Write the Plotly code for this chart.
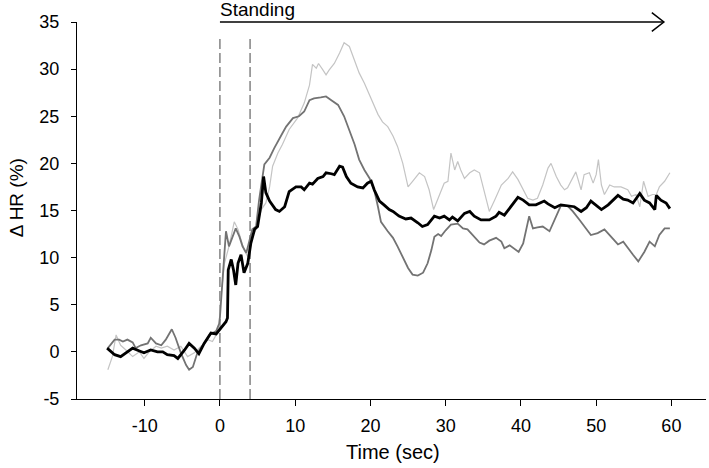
import plotly.graph_objects as go

# ---- data ----
black_t = [-15.0,-14.0,-13.2,-12.5,-11.6,-10.7,-10.1,-9.2,-8.3,-7.6,-7.0,-6.1,-5.6,-4.7,-4.1,-3.4,-2.8,-2.1,-1.2,-0.5,
           0.1,0.8,1.0,1.1,1.5,1.8,2.1,2.4,2.8,3.2,3.7,4.1,4.6,5.0,5.5,5.8,6.1,6.6,7.4,7.9,8.6,9.2,10.1,10.8,11.2,11.9,
           12.3,13.0,13.7,14.1,14.8,15.2,15.9,16.3,16.8,17.4,18.3,19.0,19.6,20.1,20.5,21.2,21.8,22.5,23.0,23.8,24.7,25.4,
           26.3,26.9,27.6,28.5,29.2,29.8,30.5,30.9,31.6,32.5,33.2,33.8,34.7,35.8,36.7,37.1,37.8,38.7,39.6,40.3,41.1,42.0,
           43.1,43.6,44.5,45.3,46.2,47.1,48.0,48.7,49.3,50.0,50.7,51.6,52.2,52.9,53.6,54.2,54.9,55.8,56.4,57.1,57.8,58.0,
           58.6,59.3,59.8]
black_v = [0.4,-0.3,-0.5,-0.1,0.4,0.1,-0.1,0.2,0.0,0.0,-0.3,-0.4,-0.7,0.2,0.9,0.4,-0.2,0.9,2.0,1.9,
           2.5,3.2,3.6,8.7,9.8,8.7,7.1,9.4,10.3,8.4,9.4,11.5,13.0,13.3,15.8,18.6,16.9,16.0,15.1,14.9,15.4,17.0,17.5,17.5,17.2,17.9,
           17.8,18.4,18.6,19.0,18.9,18.8,19.7,19.6,18.6,17.9,17.5,17.4,17.9,18.1,17.2,16.0,15.6,15.1,14.9,14.4,14.1,14.2,
           13.7,13.3,13.5,14.4,14.2,14.4,14.0,14.3,13.9,14.7,14.9,14.4,14.0,14.0,14.4,14.8,14.5,15.4,16.4,16.1,15.6,15.6,
           16.0,15.7,15.3,15.6,15.5,15.4,14.9,15.3,16.0,15.5,15.1,15.6,16.1,16.6,16.2,16.1,15.8,16.8,16.1,15.8,15.1,16.6,
           16.1,15.8,15.2]

dark_t = [-14.9,-14.0,-13.4,-12.9,-12.3,-11.6,-11.2,-10.5,-9.6,-9.2,-8.5,-7.8,-7.2,-6.4,-5.9,-5.2,-4.5,-4.1,-3.6,-3.0,
          -2.1,-1.4,-0.5,-0.1,0.0,0.8,1.2,1.7,2.1,2.6,3.0,3.5,3.9,4.3,4.8,5.2,5.9,6.6,7.2,7.9,8.3,8.8,9.7,10.5,11.2,11.9,
          12.5,13.4,14.1,14.8,15.7,16.5,17.2,17.9,18.5,19.2,19.9,20.5,21.0,21.4,22.3,23.0,23.6,24.3,25.0,25.6,26.3,27.0,
          27.6,28.1,28.5,29.0,29.4,30.0,30.7,31.6,32.3,32.9,33.6,34.5,35.1,35.8,36.7,37.4,37.8,38.5,39.7,40.3,41.1,41.6,
          42.2,42.9,43.8,44.7,45.3,46.2,46.9,47.8,48.7,49.3,50.2,51.1,52.0,52.9,53.6,54.2,54.9,55.6,56.4,57.1,57.8,58.4,
          59.1,59.8]
dark_v = [0.4,1.3,1.3,1.1,1.3,1.0,0.4,0.7,0.9,1.5,0.9,0.7,1.3,2.4,1.5,-0.1,-1.4,-1.9,-1.6,-0.1,
          0.9,1.8,2.2,3.0,3.7,12.8,11.2,12.2,13.1,12.2,11.2,10.5,11.9,13.0,13.3,16.1,19.9,20.6,21.6,22.7,23.2,23.9,24.8,25.0,25.5,26.7,
          26.9,27.0,27.1,26.7,26.2,25.0,23.6,22.0,20.4,19.3,18.4,17.2,15.4,13.8,12.8,12.1,11.2,10.1,8.9,8.2,8.1,8.4,
          9.4,10.8,12.2,12.5,12.3,12.9,13.5,13.6,13.1,13.0,12.4,11.6,11.4,11.8,12.1,11.7,11.0,11.3,10.6,11.5,14.4,13.1,
          13.2,13.3,12.8,14.4,15.5,15.5,14.9,14.0,13.1,12.4,12.6,13.0,12.2,11.4,11.7,11.0,10.3,9.6,10.6,11.7,11.2,12.4,
          13.1,13.1]

light_t = [-14.9,-14.3,-13.8,-13.2,-12.5,-11.6,-10.7,-10.1,-9.4,-8.5,-7.8,-7.0,-6.1,-5.2,-4.3,-3.4,-2.5,-1.6,-1.0,-0.5,
           -0.1,0.0,0.6,1.2,1.9,2.4,2.8,3.2,3.7,4.1,4.8,5.5,6.1,6.6,7.0,7.7,8.3,9.2,10.3,11.2,11.9,12.3,12.8,13.1,13.7,
           14.1,14.5,15.2,15.9,16.5,17.2,17.9,18.5,19.2,20.1,21.0,21.6,22.3,23.0,23.6,24.3,25.0,25.6,26.5,27.2,27.8,28.4,
           29.0,29.8,30.3,30.7,31.2,31.6,32.0,32.5,33.2,33.8,34.5,35.1,35.8,36.5,37.4,38.3,38.9,39.6,40.3,40.9,41.6,42.2,
           42.9,43.6,44.0,44.7,45.3,45.8,46.2,46.9,47.3,48.0,48.4,49.1,49.6,50.0,50.3,50.7,51.1,51.8,52.4,53.3,54.2,54.7,
           55.3,55.8,56.3,56.9,57.5,58.0,58.4,59.1,59.8]
light_v = [-1.9,-0.5,1.8,0.7,0.2,-0.5,0.0,-0.7,0.0,0.6,0.4,0.6,0.2,0.6,-0.5,-0.1,0.6,1.3,1.1,1.8,
           2.7,4.8,9.4,11.2,13.8,13.0,11.9,10.8,10.1,12.1,13.0,15.1,15.8,17.5,19.7,21.1,22.0,23.6,24.8,26.4,28.3,30.5,30.1,30.6,29.9,
           29.4,29.9,30.6,31.7,32.8,32.4,31.0,29.6,28.5,26.8,25.2,24.4,23.9,22.9,21.8,20.0,17.5,18.1,19.0,18.6,17.2,15.1,
           16.3,17.9,18.1,21.1,19.3,20.2,19.3,18.4,19.0,19.3,19.0,17.0,14.9,16.1,17.7,18.4,19.1,18.3,17.2,16.3,16.1,16.3,
           17.7,19.5,20.0,18.6,17.7,17.2,17.4,18.6,19.1,17.2,18.8,19.0,17.9,18.8,20.4,17.7,16.7,17.7,17.5,17.5,17.2,16.5,
           16.7,15.4,18.1,16.5,16.7,16.7,17.5,18.1,19.0]

x_ticks = [-10, 0, 10, 20, 30, 40, 50, 60]
y_ticks = [-5, 0, 5, 10, 15, 20, 25, 30, 35]
marker_times = [0, 4]
standing_start, standing_end = 0, 59
x_range = [-19.0, 64.6]
y_range = [-5, 35]

FONT = "Liberation Sans, Arial, sans-serif"

fig = go.Figure()
fig.add_trace(go.Scatter(x=light_t, y=light_v, mode="lines",
                         line=dict(color="#c4c4c4", width=1.2), hoverinfo="skip"))
fig.add_trace(go.Scatter(x=dark_t, y=dark_v, mode="lines",
                         line=dict(color="#737373", width=1.8), hoverinfo="skip"))
fig.add_trace(go.Scatter(x=black_t, y=black_v, mode="lines",
                         line=dict(color="#000000", width=2.8), hoverinfo="skip"))

shapes = []
for mt in marker_times:
    shapes.append(dict(type="line", xref="x", yref="y", x0=mt, x1=mt, y0=-5, y1=33.4,
                       line=dict(color="#444444", width=1, dash="10px,4px"), layer="below"))
# Standing arrow (paper y so it is not clipped at the top edge)
shapes.append(dict(type="line", xref="x", yref="paper", x0=standing_start, x1=standing_end,
                   y0=1.0, y1=1.0, line=dict(color="#000000", width=1.5)))
shapes.append(dict(type="path", xref="x", yref="paper",
                   path=f"M {standing_end-1.6},{1.0+0.025} L {standing_end},1.0 L {standing_end-1.6},{1.0-0.025}",
                   line=dict(color="#000000", width=1.5)))

fig.update_layout(
    width=709, height=468,
    margin=dict(l=77, r=3, t=22, b=69),
    paper_bgcolor="white", plot_bgcolor="white",
    showlegend=False,
    font=dict(family=FONT, color="#000000"),
    shapes=shapes,
    xaxis=dict(range=x_range, tickvals=x_ticks, ticktext=[str(v) for v in x_ticks],
               showgrid=False, zeroline=False, showline=True, linecolor="#000000", linewidth=1,
               ticks="outside", ticklen=6, tickcolor="#000000", tickwidth=1,
               tickfont=dict(size=18, family=FONT), ticklabelstandoff=4),
    yaxis=dict(range=y_range, tickvals=y_ticks, ticktext=[str(v) for v in y_ticks],
               showgrid=False, zeroline=False, showline=True, linecolor="#000000", linewidth=1,
               ticks="outside", ticklen=5, tickcolor="#000000", tickwidth=1,
               tickfont=dict(size=18, family=FONT), ticklabelstandoff=8),
    annotations=[
        dict(text="Time (sec)", xref="paper", yref="paper", x=0.502, y=-0.14,
             xanchor="center", yanchor="middle", showarrow=False, font=dict(size=20, family=FONT)),
        dict(text="Δ HR (%)", xref="paper", yref="paper", x=-0.097, y=0.535, textangle=-90,
             xanchor="center", yanchor="middle", showarrow=False, font=dict(size=19, family=FONT)),
        dict(text="Standing", xref="x", yref="paper", x=standing_start - 0.2, y=1.032,
             xanchor="left", yanchor="middle", showarrow=False, font=dict(size=19, family=FONT)),
    ],
)

# remove the browser's default 8px body margin so the figure fills the window exactly
fig.write_html("out.html",
               config={"displayModeBar": False, "staticPlot": True},
               post_script="document.body.style.margin='0';document.body.style.padding='0';")
